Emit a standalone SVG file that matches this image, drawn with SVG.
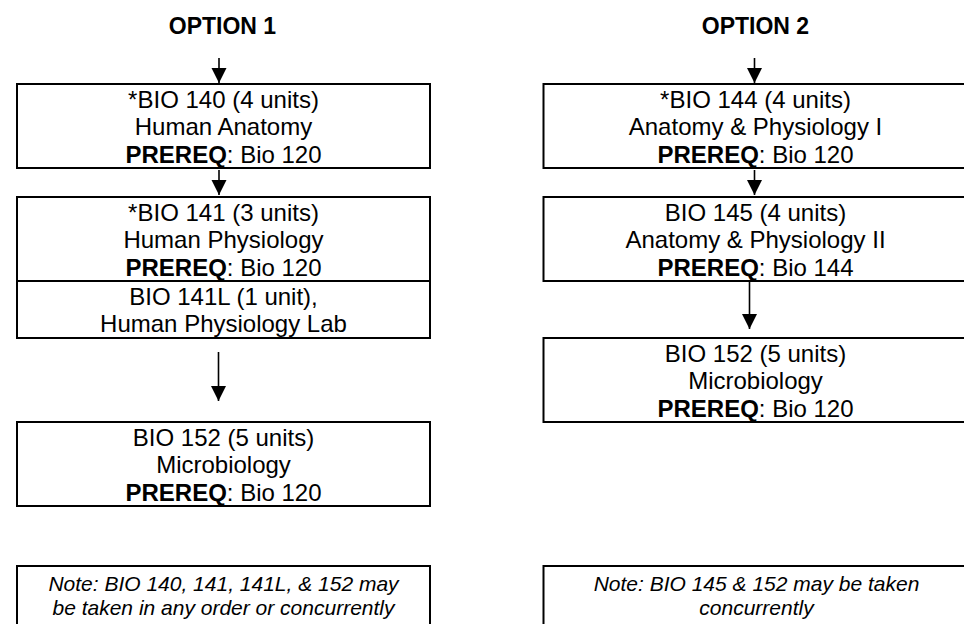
<svg xmlns="http://www.w3.org/2000/svg" width="964" height="624" viewBox="0 0 964 624">
<defs>
<marker id="ah" markerUnits="userSpaceOnUse" markerWidth="16" markerHeight="16" viewBox="0 0 16 16" refX="15" refY="8" orient="auto">
<path d="M0,0.5 L15,8 L0,15.5 Z" fill="#000"/>
</marker>
<style>
.box{fill:#fff;stroke:#000;stroke-width:2}
.t{font-family:"Liberation Sans",Arial,sans-serif;font-size:24px;fill:#000;text-anchor:middle}
.b{font-weight:bold}
.h{font-family:"Liberation Sans",Arial,sans-serif;font-size:23px;font-weight:bold;fill:#000;text-anchor:middle}
.n{font-family:"Liberation Sans",Arial,sans-serif;font-size:21px;font-style:italic;fill:#000;text-anchor:middle}
.c{stroke:#000;stroke-width:1.6;fill:none;marker-end:url(#ah)}
</style>
</defs>
<rect width="964" height="624" fill="#fff"/>
<g id="titles">
<text class="h" x="222.5" y="33.5">OPTION 1</text>
<text class="h" x="755.5" y="33.5">OPTION 2</text>
</g>
<g id="bio140">
<rect class="box" x="17" y="84" width="413" height="84"/>
<text class="t" x="223.5" y="107.5">*BIO 140 (4 units)</text>
<text class="t" x="223.5" y="135">Human Anatomy</text>
<text class="t" x="223.5" y="162.5"><tspan class="b">PREREQ</tspan>: Bio 120</text>
</g>
<g id="bio141">
<rect class="box" x="17" y="197" width="413" height="84"/>
<text class="t" x="223.5" y="220.5">*BIO 141 (3 units)</text>
<text class="t" x="223.5" y="248">Human Physiology</text>
<text class="t" x="223.5" y="275.5"><tspan class="b">PREREQ</tspan>: Bio 120</text>
</g>
<g id="bio141L">
<rect class="box" x="17" y="281" width="413" height="57"/>
<text class="t" x="223.5" y="304.5">BIO 141L (1 unit),</text>
<text class="t" x="223.5" y="332">Human Physiology Lab</text>
</g>
<g id="bio152a">
<rect class="box" x="17" y="422" width="413" height="84"/>
<text class="t" x="223.5" y="445.5">BIO 152 (5 units)</text>
<text class="t" x="223.5" y="473">Microbiology</text>
<text class="t" x="223.5" y="500.5"><tspan class="b">PREREQ</tspan>: Bio 120</text>
</g>
<g id="note1">
<rect class="box" x="17" y="566" width="413" height="70"/>
<text class="n" x="223.5" y="591">Note: BIO 140, 141, 141L, &amp; 152 may</text>
<text class="n" x="223.5" y="615">be taken in any order or concurrently</text>
</g>
<g id="bio144">
<rect class="box" x="543.5" y="84" width="424" height="84"/>
<text class="t" x="755.5" y="107.5">*BIO 144 (4 units)</text>
<text class="t" x="755.5" y="135">Anatomy &amp; Physiology I</text>
<text class="t" x="755.5" y="162.5"><tspan class="b">PREREQ</tspan>: Bio 120</text>
</g>
<g id="bio145">
<rect class="box" x="543.5" y="197" width="424" height="84"/>
<text class="t" x="755.5" y="220.5">BIO 145 (4 units)</text>
<text class="t" x="755.5" y="248">Anatomy &amp; Physiology II</text>
<text class="t" x="755.5" y="275.5"><tspan class="b">PREREQ</tspan>: Bio 144</text>
</g>
<g id="bio152b">
<rect class="box" x="543.5" y="338" width="424" height="84"/>
<text class="t" x="755.5" y="361.5">BIO 152 (5 units)</text>
<text class="t" x="755.5" y="389">Microbiology</text>
<text class="t" x="755.5" y="416.5"><tspan class="b">PREREQ</tspan>: Bio 120</text>
</g>
<g id="note2">
<rect class="box" x="543.5" y="566" width="424" height="70"/>
<text class="n" x="756.5" y="591">Note: BIO 145 &amp; 152 may be taken</text>
<text class="n" x="756.5" y="615">concurrently</text>
</g>
<g id="connectors">
<line class="c" x1="219" y1="58" x2="219" y2="83"/>
<line class="c" x1="219" y1="170" x2="219" y2="195"/>
<line class="c" x1="218.5" y1="352" x2="218.5" y2="401"/>
<line class="c" x1="754.5" y1="58" x2="754.5" y2="83"/>
<line class="c" x1="754.5" y1="170" x2="754.5" y2="195"/>
<line class="c" x1="749.5" y1="281" x2="749.5" y2="329"/>
</g>
</svg>
